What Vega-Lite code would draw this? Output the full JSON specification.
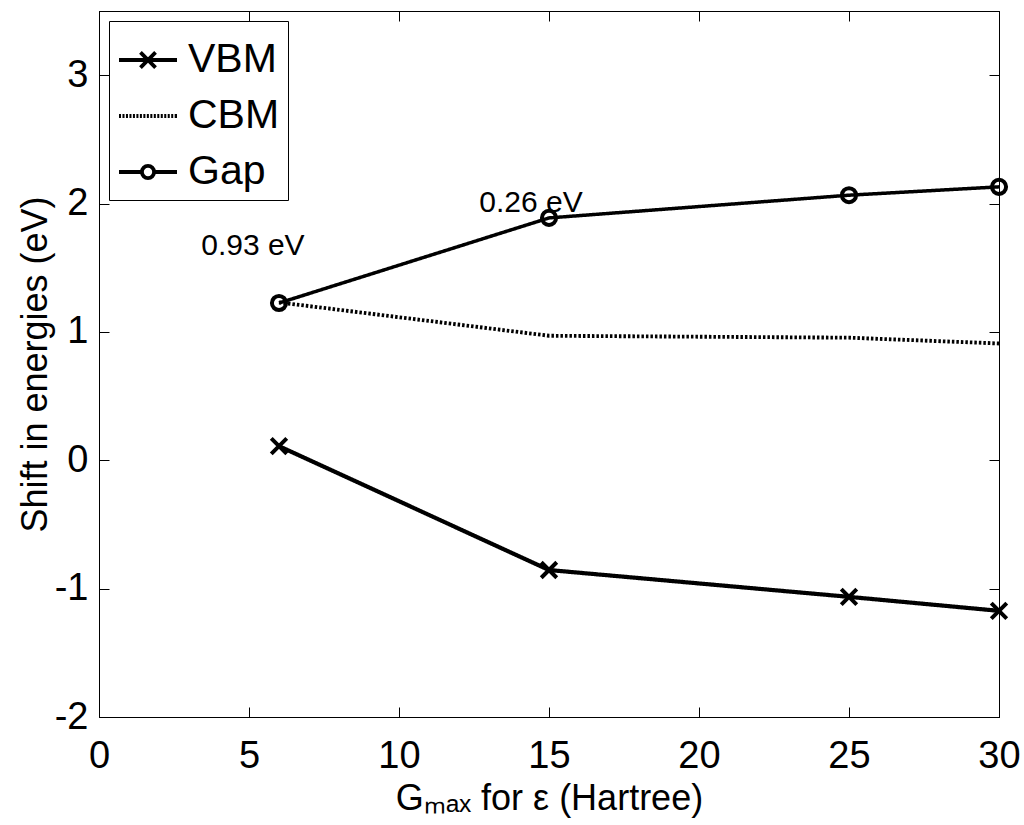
{
  "$schema": "https://vega.github.io/schema/vega-lite/v6.json",
  "width": 900,
  "height": 706,
  "autosize": "none",
  "padding": {"left": 99, "top": 11, "right": 25, "bottom": 108},
  "background": "white",
  "config": {
    "font": "Liberation Sans",
    "view": {"stroke": "black", "strokeWidth": 1},
    "axis": {
      "domainColor": "black", "tickColor": "black", "labelColor": "black", "titleColor": "black",
      "grid": false, "labelFont": "Liberation Sans", "titleFont": "Liberation Sans",
      "labelFontWeight": "normal", "titleFontWeight": "normal", "tickSize": -10, "tickWidth": 1, "domainWidth": 1
    }
  },
  "datasets": {
    "series": [
      {"series": "VBM", "g": 6, "e": 0.11},
      {"series": "VBM", "g": 15, "e": -0.855},
      {"series": "VBM", "g": 25, "e": -1.064},
      {"series": "VBM", "g": 30, "e": -1.173},
      {"series": "CBM", "g": 6, "e": 1.23},
      {"series": "CBM", "g": 15, "e": 0.97},
      {"series": "CBM", "g": 25, "e": 0.955},
      {"series": "CBM", "g": 30, "e": 0.91},
      {"series": "Gap", "g": 6, "e": 1.225},
      {"series": "Gap", "g": 15, "e": 1.888},
      {"series": "Gap", "g": 25, "e": 2.065},
      {"series": "Gap", "g": 30, "e": 2.13}
    ],
    "notes": [
      {"label": "0.93 eV", "g": 5.13, "e": 1.6},
      {"label": "0.26 eV", "g": 14.4, "e": 1.935}
    ]
  },
  "layer": [
    {
      "data": {"name": "series"},
      "mark": {"type": "line", "color": "black"},
      "encoding": {
        "x": {
          "field": "g", "type": "quantitative",
          "scale": {"domain": [0, 30], "nice": false, "zero": false},
          "axis": {
            "orient": "bottom", "values": [0, 5, 10, 15, 20, 25, 30], "labelFontSize": 38,
            "labelPadding": 30, "title": "Gₘₐₓ for ε (Hartree)", "titleFontSize": 36, "titlePadding": 6,
            "labelFlush": false, "labelOverlap": false, "labelExpr": "'' + datum.value"
          }
        },
        "y": {
          "field": "e", "type": "quantitative",
          "scale": {"domain": [-2, 3.5], "nice": false, "zero": false},
          "axis": {
            "orient": "left", "values": [-2, -1, 0, 1, 2, 3], "labelFontSize": 38,
            "labelPadding": 21, "title": "Shift in energies (eV)", "titleFontSize": 36, "titlePadding": 0,
            "labelFlush": false, "labelOverlap": false, "labelExpr": "'' + datum.value"
          }
        },
        "detail": {"field": "series"},
        "strokeDash": {
          "field": "series", "type": "nominal",
          "scale": {"domain": ["VBM", "CBM", "Gap"], "range": [[1, 0], [2.5, 2], [1, 0]]},
          "legend": null
        },
        "strokeWidth": {
          "field": "series", "type": "nominal",
          "scale": {"domain": ["VBM", "CBM", "Gap"], "range": [4.2, 3.5, 5]},
          "legend": null
        }
      }
    },
    {
      "data": {"name": "series"},
      "transform": [{"filter": "datum.series !== 'CBM'"}],
      "mark": {"type": "point", "filled": false, "color": "black", "strokeWidth": 4, "opacity": 1},
      "encoding": {
        "x": {
          "field": "g", "type": "quantitative",
          "axis": {"orient": "top", "values": [0, 5, 10, 15, 20, 25, 30], "labels": false, "title": null}
        },
        "y": {
          "field": "e", "type": "quantitative",
          "axis": {"orient": "right", "values": [-2, -1, 0, 1, 2, 3], "labels": false, "title": null}
        },
        "shape": {
          "field": "series", "type": "nominal",
          "scale": {"domain": ["VBM", "Gap"], "range": ["M-1,-1L1,1M-1,1L1,-1", "circle"]},
          "legend": null
        },
        "size": {
          "field": "series", "type": "nominal",
          "scale": {"domain": ["VBM", "Gap"], "range": [240, 200]},
          "legend": null
        }
      }
    },
    {
      "data": {"name": "series"},
      "mark": {"type": "point", "filled": false, "color": "black", "opacity": 0},
      "encoding": {
        "x": {"field": "g", "type": "quantitative", "axis": null},
        "y": {"field": "e", "type": "quantitative", "axis": null},
        "shape": {
          "field": "series", "type": "nominal",
          "scale": {
            "domain": ["VBM", "CBM", "Gap"],
            "range": [
              "M-1,0H1M-0.26,-0.26L0.26,0.26M-0.26,0.26L0.26,-0.26",
              "M-1,0h0.07M-0.88,0h0.07M-0.76,0h0.07M-0.64,0h0.07M-0.52,0h0.07M-0.4,0h0.07M-0.28,0h0.07M-0.16,0h0.07M-0.04,0h0.07M0.08,0h0.07M0.2,0h0.07M0.32,0h0.07M0.44,0h0.07M0.56,0h0.07M0.68,0h0.07M0.8,0h0.07M0.92,0h0.08",
              "M-1,0H-0.21M0.21,0H1M-0.21,0A0.21,0.21 0 1,1 0.21,0A0.21,0.21 0 1,1 -0.21,0"
            ]
          },
          "legend": {
            "title": null, "orient": "top-left", "offset": 10, "padding": 8,
            "strokeColor": "black", "fillColor": "white", "cornerRadius": 0,
            "labelFontSize": 41, "labelFont": "Liberation Sans", "labelColor": "black",
            "symbolSize": 3364, "symbolStrokeWidth": 3.8, "symbolStrokeColor": "black",
            "symbolFillColor": "transparent", "symbolOpacity": 1, "labelOffset": 9, "rowPadding": 5
          }
        }
      }
    },
    {
      "data": {"name": "notes"},
      "mark": {"type": "text", "fontSize": 30, "font": "Liberation Sans", "align": "center", "baseline": "alphabetic", "color": "black"},
      "encoding": {
        "x": {"field": "g", "type": "quantitative", "axis": null},
        "y": {"field": "e", "type": "quantitative", "axis": null},
        "text": {"field": "label"}
      }
    }
  ],
  "resolve": {
    "axis": {"x": "independent", "y": "independent"},
    "scale": {"shape": "independent", "size": "independent"},
    "legend": {"shape": "independent"}
  }
}
